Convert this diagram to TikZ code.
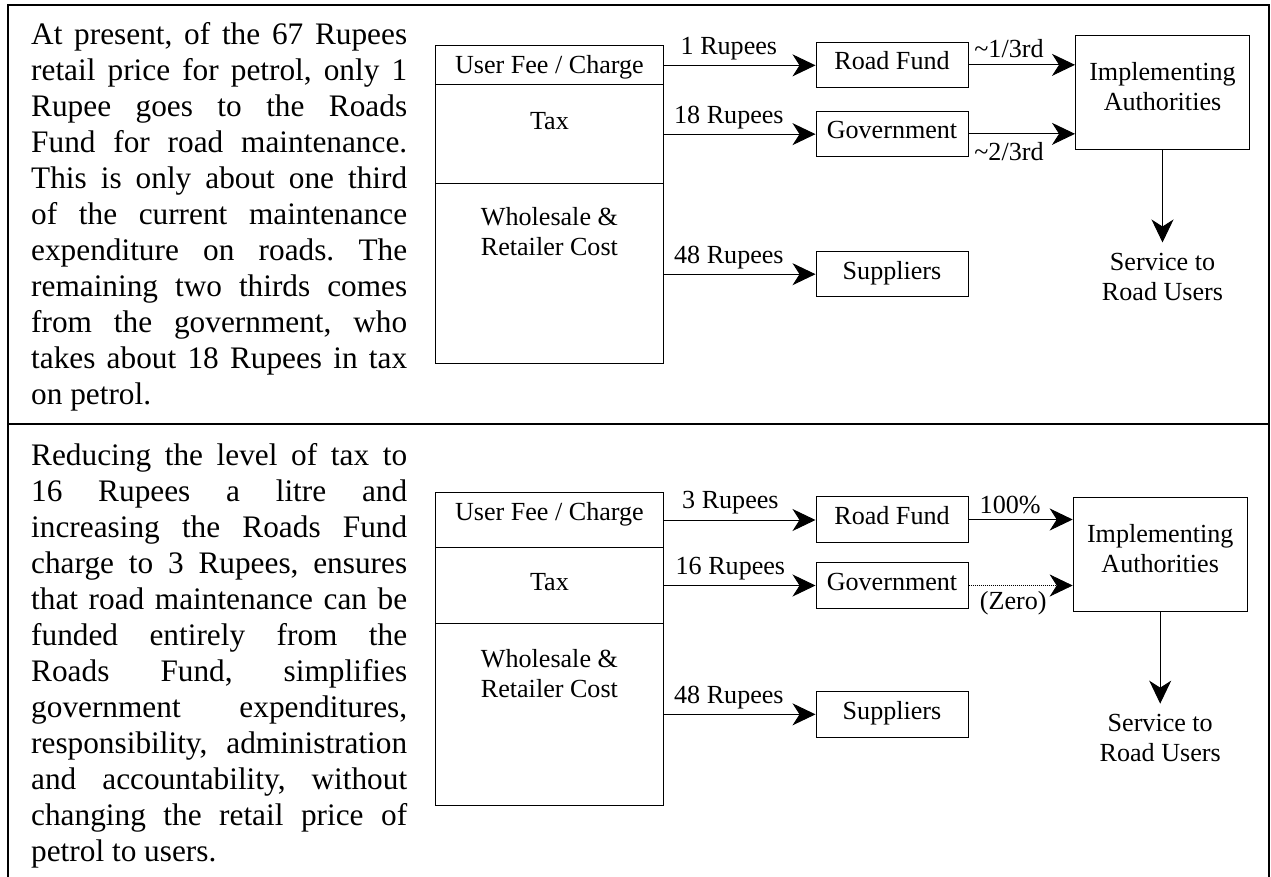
\documentclass[tikz,border=0pt]{standalone}
\usepackage{fontspec}
\setmainfont{Liberation Serif}
\usetikzlibrary{arrows.meta,positioning}
\frenchspacing
\newcommand{\parafont}{\fontsize{31.3}{36}\selectfont}
\newcommand{\boxfont}{\fontsize{26.1}{30}\selectfont}
\newlength{\colw}\setlength{\colw}{376pt}
\newcommand{\jline}[1]{\makebox[\colw][s]{#1}}

\begin{document}
\begin{tikzpicture}[x=1pt,y=-1pt,
		frame/.style={line width=2pt},
		cell/.style={draw,line width=1pt,minimum width=227.3pt,inner sep=0pt},
		fundbox/.style={draw,line width=1pt,font=\boxfont,minimum width=152pt,minimum height=45.5pt,text height=18pt,text depth=8pt,inner sep=0pt},
		authbox/.style={draw,line width=1pt,minimum width=174pt,minimum height=113.5pt,inner sep=0pt},
		txt/.style={font=\boxfont,align=center,inner sep=0pt},
		amt/.style={font=\boxfont,inner sep=0pt},
		flow/.style={-{Stealth[length=23pt,width=22pt,inset=7pt]},line width=1pt}]
				\useasboundingbox (0,0) rectangle (1271,877);
				% the table round both halves
				\draw[frame] (8,877) -- (8,5) -- (1269,5) -- (1269,877);
				\draw[frame] (8,424.3) -- (1269,424.3);
				% notes in the left column
				\node[anchor=north west,inner sep=0pt,font=\parafont,align=left] (note1) at (31,22) {%
					\jline{At present, of the 67 Rupees}\\
					\jline{retail price for petrol, only 1}\\
					\jline{Rupee goes to the Roads}\\
					\jline{Fund for road maintenance.}\\
					\jline{This is only about one third}\\
					\jline{of the current maintenance}\\
					\jline{expenditure on roads. The}\\
					\jline{remaining two thirds comes}\\
					\jline{from the government, who}\\
					\jline{takes about 18 Rupees in tax}\\
					on petrol.};
				\node[anchor=north west,inner sep=0pt,font=\parafont,align=left] (note2) at (31,443.7) {%
					\jline{Reducing the level of tax to}\\
					\jline{16 Rupees a litre and}\\
					\jline{increasing the Roads Fund}\\
					\jline{charge to 3 Rupees, ensures}\\
					\jline{that road maintenance can be}\\
					\jline{funded entirely from the}\\
					\jline{Roads Fund, simplifies}\\
					\jline{government expenditures,}\\
					\jline{responsibility, administration}\\
					\jline{and accountability, without}\\
					\jline{changing the retail price of}\\
					petrol to users.};
				% present split of the retail price
				\node[cell,minimum height=39.3pt] (fee1) at (549.4,65.35) {};
				\node[cell,minimum height=98.3pt] (tax1) at (549.4,134.15) {};
				\node[cell,minimum height=180pt] (whole1) at (549.4,273.3) {};
				\node[txt,anchor=north] (feetxt1) at (549.4,54.9) {User Fee / Charge};
				\node[txt,anchor=north] (taxtxt1) at (549.4,112) {Tax};
				\node[txt,anchor=north] (wholetxt1) at (549.4,207.2) {Wholesale \&\\Retailer Cost};
				\node[fundbox] (rf1) at (892,64.85) {Road Fund};
				\node[fundbox] (gov1) at (892,133.85) {Government};
				\node[fundbox] (sup1) at (892,274.2) {Suppliers};
				\node[authbox] (ia1) at (1162.5,92.65) {};
				\node[txt,anchor=north] (iatxt1) at (1162.5,61.7) {Implementing\\Authorities};
				\node[txt,below=103.6pt of ia1] (svc1) {Service to\\Road Users};
				\draw[flow] (fee1.east) -- (fee1.east -| rf1.west) node[amt,above=5pt,pos=.43] {1 Rupees};
				\draw[flow] (tax1.east) -- (tax1.east -| gov1.west) node[amt,above=5pt,pos=.43] {18 Rupees};
				\draw[flow] (sup1.west -| whole1.east) -- (sup1.west) node[amt,above=5pt,pos=.43] {48 Rupees};
				\draw[flow] (rf1.east) -- (rf1.east -| ia1.west) node[amt,above=7pt,pos=.38] {\textasciitilde1/3rd};
				\draw[flow] (gov1.east) -- (gov1.east -| ia1.west) node[amt,below=8pt,pos=.38] {\textasciitilde2/3rd};
				\draw[flow,shorten >=11pt] (ia1) -- (svc1);
				% proposed split, all maintenance from the fund
				\node[cell,minimum height=55.4pt] (fee2) at (549.4,520) {};
				\node[cell,minimum height=75.6pt] (tax2) at (549.4,585.5) {};
				\node[cell,minimum height=181.7pt] (whole2) at (549.4,714.15) {};
				\node[txt,anchor=north] (feetxt2) at (549.4,502.2) {User Fee / Charge};
				\node[txt,anchor=north] (taxtxt2) at (549.4,573.4) {Tax};
				\node[txt,anchor=north] (wholetxt2) at (549.4,648.9) {Wholesale \&\\Retailer Cost};
				\node[fundbox] (rf2) at (892,519.5) {Road Fund};
				\node[fundbox] (gov2) at (892,585.5) {Government};
				\node[fundbox] (sup2) at (892,714.35) {Suppliers};
				\node[authbox] (ia2) at (1160.2,554.7) {};
				\node[txt,anchor=north] (iatxt2) at (1160.2,523.9) {Implementing\\Authorities};
				\node[txt,below=102.2pt of ia2] (svc2) {Service to\\Road Users};
				\draw[flow] (fee2.east) -- (fee2.east -| rf2.west) node[amt,above=5pt,pos=.44] {3 Rupees};
				\draw[flow] (tax2.east) -- (tax2.east -| gov2.west) node[amt,above=5pt,pos=.44] {16 Rupees};
				\draw[flow] (sup2.west -| whole2.east) -- (sup2.west) node[amt,above=5pt,pos=.43] {48 Rupees};
				\draw[flow] (rf2.east) -- (rf2.east -| ia2.west) node[amt,above=5pt,pos=.40] {100\%};
				\draw[flow,densely dotted,line width=0.7pt] (gov2.east) -- (gov2.east -| ia2.west) node[amt,below=6pt,pos=.43] {(Zero)};
				\draw[flow,shorten >=10.5pt] (ia2) -- (svc2);
			\end{tikzpicture}
\end{document}
